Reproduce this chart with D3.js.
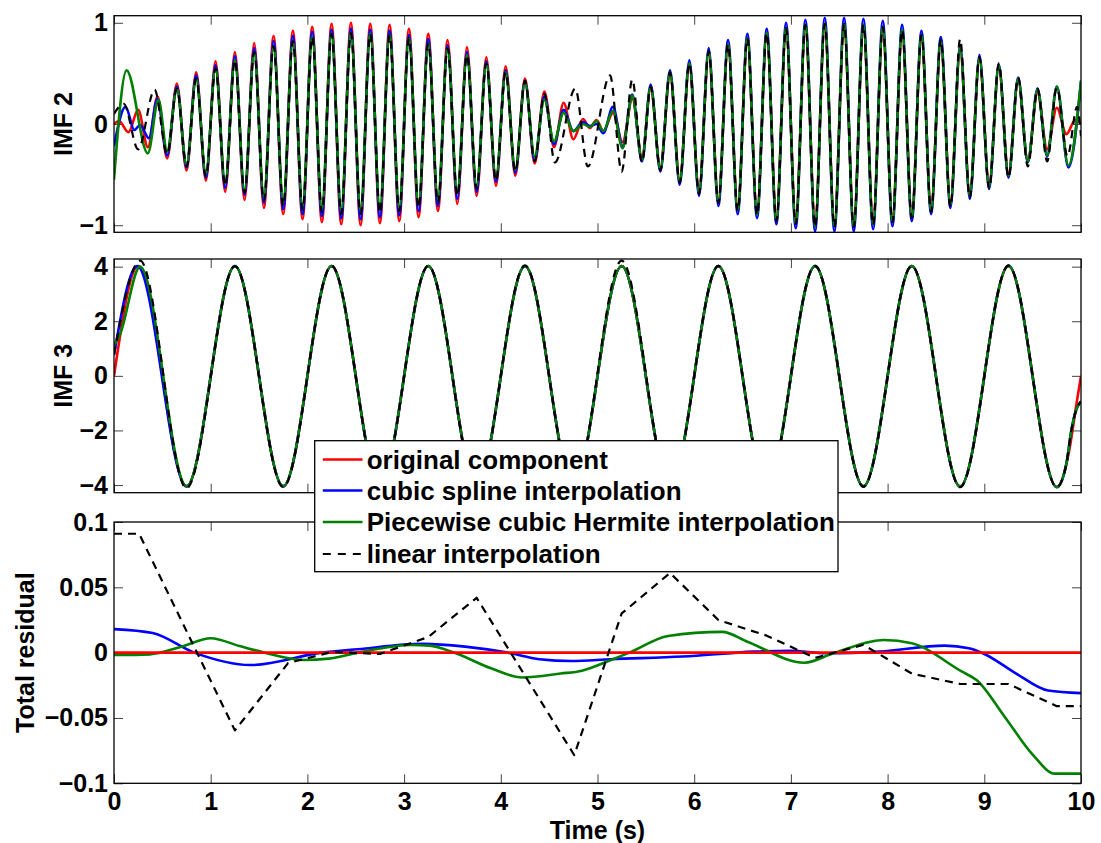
<!DOCTYPE html>
<html><head><meta charset="utf-8">
<script src="https://cdn.jsdelivr.net/npm/d3@7"></script>
<style>body{margin:0;background:#fff}svg{display:block}</style>
</head><body>
<svg id="c" width="1101" height="843"></svg>
<script>
// ---------------- DATA ----------------
const xTicks = [0,1,2,3,4,5,6,7,8,9,10];
const xTickLabels = ["0","1","2","3","4","5","6","7","8","9","10"];
const imf2Ticks = [-1,0,1];
const imf2TickLabels = ["\u22121","0","1"];
const imf3Ticks = [-4,-2,0,2,4];
const imf3TickLabels = ["\u22124","\u22122","0","2","4"];
const resTicks = [-0.1,-0.05,0,0.05,0.1];
const resTickLabels = ["\u22120.1","\u22120.05","0","0.05","0.1"];
const seriesNames = ["original component","cubic spline interpolation","Piecewise cubic Hermite interpolation","linear interpolation"];

// IMF 2 : [time, value] of the extrema of each curve
const imf2Original = [[0,0.0],[0.05,0.03],[0.15,-0.08],[0.25,0.14],[0.35,-0.23],[0.45,0.27],[0.55,-0.34],[0.65,0.40],[0.75,-0.46],[0.85,0.51],[0.95,-0.56],[1.05,0.62],[1.15,-0.67],[1.25,0.71],[1.35,-0.75],[1.45,0.80],[1.55,-0.83],[1.65,0.87],[1.75,-0.89],[1.85,0.92],[1.95,-0.94],[2.05,0.96],[2.15,-0.97],[2.25,0.99],[2.35,-0.99],[2.45,1.0],[2.55,-1.0],[2.65,0.99],[2.75,-0.98],[2.85,0.98],[2.95,-0.96],[3.05,0.94],[3.15,-0.92],[3.25,0.89],[3.35,-0.86],[3.45,0.83],[3.55,-0.79],[3.65,0.76],[3.75,-0.71],[3.85,0.66],[3.95,-0.61],[4.05,0.57],[4.15,-0.51],[4.25,0.45],[4.35,-0.39],[4.45,0.32],[4.55,-0.23],[4.65,0.21],[4.75,-0.15],[4.85,0.05],[4.92,-0.04],[4.99,0.04],[5.06,-0.07],[5.16,0.11],[5.26,-0.18],[5.36,0.25],[5.46,-0.33],[5.55,0.35],[5.65,-0.43],[5.75,0.49],[5.85,-0.55],[5.95,0.58],[6.05,-0.66],[6.15,0.70],[6.25,-0.75],[6.35,0.77],[6.45,-0.83],[6.55,0.83],[6.65,-0.87],[6.75,0.88],[6.85,-0.92],[6.95,0.93],[7.05,-0.95],[7.15,0.95],[7.25,-0.98],[7.35,0.96],[7.45,-0.98],[7.55,0.96],[7.65,-0.98],[7.75,0.95],[7.85,-0.96],[7.95,0.93],[8.05,-0.93],[8.15,0.90],[8.25,-0.89],[8.35,0.85],[8.45,-0.82],[8.55,0.79],[8.65,-0.77],[8.75,0.73],[8.85,-0.69],[8.95,0.64],[9.05,-0.60],[9.15,0.56],[9.25,-0.49],[9.35,0.43],[9.45,-0.36],[9.55,0.31],[9.65,-0.25],[9.75,0.16],[9.85,-0.10],[9.94,0.04],[10,0.0]];
const imf2Spline = [[0,-0.22],[0.12,0.17],[0.21,-0.06],[0.27,-0.01],[0.36,-0.14],[0.45,0.25],[0.55,-0.31],[0.65,0.37],[0.75,-0.43],[0.85,0.48],[0.95,-0.53],[1.05,0.58],[1.15,-0.63],[1.25,0.67],[1.35,-0.70],[1.45,0.75],[1.55,-0.78],[1.65,0.82],[1.75,-0.84],[1.85,0.87],[1.95,-0.89],[2.05,0.91],[2.15,-0.91],[2.25,0.93],[2.35,-0.93],[2.45,0.94],[2.55,-0.94],[2.65,0.93],[2.75,-0.92],[2.85,0.92],[2.95,-0.90],[3.05,0.88],[3.15,-0.86],[3.25,0.84],[3.35,-0.81],[3.45,0.78],[3.55,-0.74],[3.65,0.71],[3.75,-0.67],[3.85,0.62],[3.95,-0.57],[4.05,0.53],[4.15,-0.48],[4.25,0.42],[4.35,-0.36],[4.45,0.27],[4.55,-0.20],[4.65,0.14],[4.75,-0.07],[4.85,0.02],[4.92,-0.02],[4.99,0.0],[5.06,-0.09],[5.16,0.17],[5.26,-0.22],[5.36,0.29],[5.46,-0.37],[5.55,0.39],[5.65,-0.47],[5.75,0.53],[5.85,-0.60],[5.95,0.63],[6.05,-0.71],[6.15,0.75],[6.25,-0.81],[6.35,0.83],[6.45,-0.89],[6.55,0.89],[6.65,-0.93],[6.75,0.94],[6.85,-0.99],[6.95,1.00],[7.05,-1.03],[7.15,1.03],[7.25,-1.06],[7.35,1.05],[7.45,-1.06],[7.55,1.05],[7.65,-1.06],[7.75,1.04],[7.85,-1.04],[7.95,1.02],[8.05,-1.01],[8.15,0.98],[8.25,-0.96],[8.35,0.92],[8.45,-0.89],[8.55,0.86],[8.65,-0.83],[8.75,0.78],[8.85,-0.74],[8.95,0.68],[9.05,-0.64],[9.15,0.59],[9.25,-0.53],[9.35,0.46],[9.45,-0.38],[9.55,0.35],[9.65,-0.32],[9.75,0.37],[9.87,-0.43],[10,0.42]];
const imf2Hermite = [[0,-0.55],[0.13,0.53],[0.35,-0.29],[0.46,0.24],[0.55,-0.27],[0.65,0.35],[0.75,-0.40],[0.85,0.45],[0.95,-0.49],[1.05,0.55],[1.15,-0.58],[1.25,0.63],[1.35,-0.65],[1.45,0.71],[1.55,-0.72],[1.65,0.77],[1.75,-0.77],[1.85,0.82],[1.95,-0.81],[2.05,0.86],[2.15,-0.83],[2.25,0.89],[2.35,-0.85],[2.45,0.90],[2.55,-0.85],[2.65,0.89],[2.75,-0.84],[2.85,0.88],[2.95,-0.82],[3.05,0.85],[3.15,-0.79],[3.25,0.80],[3.35,-0.74],[3.45,0.75],[3.55,-0.68],[3.65,0.68],[3.75,-0.61],[3.85,0.60],[3.95,-0.53],[4.05,0.51],[4.15,-0.45],[4.25,0.41],[4.35,-0.32],[4.45,0.24],[4.55,-0.17],[4.65,0.11],[4.75,-0.07],[4.85,0.0],[4.92,-0.03],[4.99,0.03],[5.06,-0.07],[5.16,0.13],[5.26,-0.24],[5.36,0.28],[5.46,-0.35],[5.55,0.37],[5.65,-0.45],[5.75,0.51],[5.85,-0.57],[5.95,0.60],[6.05,-0.68],[6.15,0.72],[6.25,-0.77],[6.35,0.79],[6.45,-0.85],[6.55,0.85],[6.65,-0.89],[6.75,0.90],[6.85,-0.95],[6.95,0.95],[7.05,-0.98],[7.15,0.98],[7.25,-1.01],[7.35,0.99],[7.45,-1.01],[7.55,0.99],[7.65,-1.01],[7.75,0.98],[7.85,-0.99],[7.95,0.96],[8.05,-0.96],[8.15,0.93],[8.25,-0.92],[8.35,0.88],[8.45,-0.85],[8.55,0.82],[8.65,-0.80],[8.75,0.76],[8.85,-0.71],[8.95,0.66],[9.05,-0.62],[9.15,0.58],[9.25,-0.51],[9.35,0.45],[9.45,-0.37],[9.55,0.34],[9.65,-0.31],[9.75,0.37],[9.87,-0.41],[10,0.43]];
const imf2Linear = [[0,0.10],[0.1,0.20],[0.25,-0.25],[0.42,0.34],[0.55,-0.30],[0.65,0.35],[0.75,-0.42],[0.85,0.45],[0.95,-0.52],[1.05,0.55],[1.15,-0.61],[1.25,0.63],[1.35,-0.68],[1.45,0.71],[1.55,-0.76],[1.65,0.77],[1.75,-0.81],[1.85,0.82],[1.95,-0.85],[2.05,0.86],[2.15,-0.87],[2.25,0.89],[2.35,-0.89],[2.45,0.90],[2.55,-0.89],[2.65,0.89],[2.75,-0.88],[2.85,0.88],[2.95,-0.86],[3.05,0.85],[3.15,-0.83],[3.25,0.80],[3.35,-0.78],[3.45,0.75],[3.55,-0.71],[3.65,0.68],[3.75,-0.64],[3.85,0.60],[3.95,-0.56],[4.05,0.51],[4.15,-0.47],[4.25,0.43],[4.35,-0.37],[4.45,0.30],[4.56,-0.38],[4.77,0.35],[4.90,-0.42],[5.13,0.48],[5.25,-0.47],[5.36,0.44],[5.46,-0.38],[5.55,0.37],[5.65,-0.46],[5.75,0.51],[5.85,-0.58],[5.95,0.60],[6.05,-0.69],[6.15,0.72],[6.25,-0.78],[6.35,0.79],[6.45,-0.86],[6.55,0.85],[6.65,-0.90],[6.75,0.90],[6.85,-0.96],[6.95,0.95],[7.05,-0.99],[7.15,0.98],[7.25,-1.02],[7.35,0.99],[7.45,-1.02],[7.55,0.99],[7.65,-1.02],[7.75,0.98],[7.85,-1.0],[7.95,0.96],[8.05,-0.97],[8.15,0.93],[8.25,-0.93],[8.35,0.88],[8.45,-0.87],[8.55,0.84],[8.65,-0.82],[8.75,0.84],[8.85,-0.73],[8.95,0.66],[9.05,-0.64],[9.15,0.60],[9.25,-0.53],[9.35,0.46],[9.45,-0.42],[9.55,0.35],[9.65,-0.37],[9.75,0.36],[9.86,-0.32],[9.96,0.17],[10,-0.12]];

// IMF 3 : [time, value] of the extrema of each curve
const imf3Original = [[0,0],[0.25,4.02],[0.75,-4.05],[1.25,4.02],[1.75,-4.05],[2.25,4.02],[2.75,-4.05],[3.25,4.02],[3.75,-4.05],[4.25,4.02],[4.75,-4.05],[5.25,4.02],[5.75,-4.05],[6.25,4.02],[6.75,-4.05],[7.25,4.02],[7.75,-4.05],[8.25,4.02],[8.75,-4.05],[9.25,4.02],[9.75,-4.07],[9.88,-2.7],[9.95,-1.1],[10,0]];
const imf3Spline = [[0,0.77],[0.24,4.02],[0.75,-4.05],[1.25,4.02],[1.75,-4.05],[2.25,4.02],[2.75,-4.05],[3.25,4.02],[3.75,-4.05],[4.25,4.02],[4.75,-4.05],[5.25,4.02],[5.75,-4.05],[6.25,4.02],[6.75,-4.05],[7.25,4.02],[7.75,-4.05],[8.25,4.02],[8.75,-4.06],[9.25,4.04],[9.75,-4.08],[9.85,-3.2],[9.9,-2.0],[9.95,-1.25],[10,-0.94]];
const imf3Hermite = [[0,1.13],[0.06,1.5],[0.27,4.0],[0.75,-4.04],[1.25,4.02],[1.75,-4.04],[2.25,4.02],[2.75,-4.04],[3.25,4.02],[3.75,-4.04],[4.25,4.02],[4.75,-4.04],[5.25,4.02],[5.75,-4.04],[6.25,4.02],[6.75,-4.04],[7.25,4.02],[7.75,-4.04],[8.25,4.02],[8.75,-4.05],[9.25,4.03],[9.75,-4.07],[9.85,-3.2],[9.9,-2.0],[9.95,-1.25],[10,-0.94]];
const imf3Linear = [[0,0.77],[0.27,4.22],[0.75,-4.12],[1.25,4.02],[1.75,-4.07],[2.25,4.03],[2.75,-4.06],[3.25,4.03],[3.75,-4.06],[4.25,4.05],[4.75,-4.06],[5.25,4.22],[5.75,-4.06],[6.25,4.03],[6.75,-4.06],[7.25,4.03],[7.75,-4.06],[8.25,4.03],[8.75,-4.08],[9.25,4.04],[9.75,-4.08],[9.85,-3.2],[9.9,-2.0],[9.95,-1.25],[10,-0.94]];

// Total residual : [time, value]
const resOriginal = [[0,0],[10,0]];
const resSpline = [[0,0.018],[0.4,0.015],[0.83,0.0],[1.41,-0.0095],[2.15,0.0],[2.52,0.0026],[3.19,0.0067],[3.63,0.0046],[4.07,0.0],[4.4,-0.005],[4.73,-0.0064],[5.14,-0.005],[5.88,-0.003],[6.62,0.0008],[7.0,0.0015],[7.36,-0.0005],[7.92,0.0008],[8.59,0.0054],[8.84,0.0033],[9.0,-0.001],[9.33,-0.016],[9.66,-0.029],[10,-0.031]];
const resHermite = [[0,-0.0018],[0.37,-0.0013],[0.7,0.0046],[1.0,0.011],[1.3,0.005],[1.56,0.0],[1.96,-0.0056],[2.22,-0.0046],[2.52,0.0],[3.07,0.0059],[3.26,0.0054],[3.52,0.0],[3.9,-0.012],[4.22,-0.019],[4.62,-0.016],[4.84,-0.0138],[5.14,-0.0056],[5.33,0.0],[5.73,0.0128],[6.29,0.0159],[6.55,0.0084],[7.14,-0.0077],[7.44,-0.0005],[7.96,0.0097],[8.25,0.0072],[8.77,-0.0146],[8.92,-0.021],[9.21,-0.049],[9.5,-0.078],[9.73,-0.0926],[10,-0.0926]];
const resLinear = [[0,0.091],[0.26,0.091],[1.25,-0.0595],[1.8,-0.008],[2.25,0.0005],[2.75,-0.001],[3.25,0.012],[3.75,0.042],[4.76,-0.0785],[5.25,0.030],[5.75,0.061],[6.25,0.025],[6.75,0.013],[7.25,-0.004],[7.75,0.006],[8.25,-0.016],[8.75,-0.024],[9.25,-0.024],[9.75,-0.041],[10,-0.041]];

// ---------------- DRAWING ----------------
const FONT = '"Liberation Sans", Arial, Helvetica, sans-serif';
const COLORS = {orig:"#ff0000", spline:"#0000ff", herm:"#008000", lin:"#000000"};
const svg = d3.select("#c");
const x = d3.scaleLinear().domain([0,10]).range([114,1081]);

const panels = [
  {top:15.7, bottom:232.3, domain:[-1.07,1.07], ticks:imf2Ticks, labels:imf2TickLabels, ylabel:"IMF 2", ylx:71.5,
   curve:d3.curveMonotoneX,
   order:[[imf2Original,"orig"],[imf2Spline,"spline"],[imf2Hermite,"herm"],[imf2Linear,"lin"]], xlabels:false},
  {top:259, bottom:492.7, domain:[-4.28,4.28], ticks:imf3Ticks, labels:imf3TickLabels, ylabel:"IMF 3", ylx:71.5,
   curve:d3.curveMonotoneX,
   order:[[imf3Original,"orig"],[imf3Spline,"spline"],[imf3Hermite,"herm"],[imf3Linear,"lin"]], xlabels:false},
  {top:522, bottom:783.3, domain:[-0.1,0.1], ticks:resTicks, labels:resTickLabels, ylabel:"Total residual", ylx:34,
   curve:d3.curveMonotoneX,
   order:[[resSpline,"spline"],[resHermite,"herm"],[resOriginal,"orig"],[resLinear,"lin"]], xlabels:true}
];

panels.forEach((p,i)=>{
  const y = d3.scaleLinear().domain(p.domain).range([p.bottom,p.top]);
  const g = svg.append("g");
  const clipId = "clip"+i;
  svg.append("clipPath").attr("id",clipId).append("rect")
     .attr("x",x.range()[0]).attr("y",p.top).attr("width",x.range()[1]-x.range()[0]).attr("height",p.bottom-p.top);

  const styleAxis = sel => {
    sel.select(".domain").remove();
    sel.selectAll(".tick line").attr("stroke","#444").attr("stroke-width",1);
    sel.selectAll("text").attr("font-family",FONT).attr("font-size",25).attr("font-weight","bold").attr("fill","#000");
  };
  g.append("g").attr("transform",`translate(${x.range()[0]},0)`)
   .call(d3.axisLeft(y).tickValues(p.ticks).tickFormat((d,k)=>p.labels[k]).tickSize(-9).tickPadding(6)).call(styleAxis);
  g.append("g").attr("transform",`translate(${x.range()[1]},0)`)
   .call(d3.axisRight(y).tickValues(p.ticks).tickFormat("").tickSize(-9)).call(styleAxis);
  g.append("g").attr("transform",`translate(0,${p.top})`)
   .call(d3.axisTop(x).tickValues(xTicks).tickFormat("").tickSize(-9)).call(styleAxis);
  g.append("g").attr("transform",`translate(0,${p.bottom})`)
   .call(d3.axisBottom(x).tickValues(xTicks).tickFormat(p.xlabels ? ((d,k)=>xTickLabels[k]) : "").tickSize(-9).tickPadding(9)).call(styleAxis);

  const lines = g.append("g").attr("clip-path",`url(#${clipId})`);
  const line = d3.line().x(d=>x(d[0])).y(d=>y(d[1])).curve(p.curve);
  const straight = d3.line().x(d=>x(d[0])).y(d=>y(d[1]));
  p.order.forEach(([data,key])=>{
    const lin = key==="lin";
    lines.append("path").attr("d", (lin && i===2) ? straight(data) : line(data))
      .attr("fill","none").attr("stroke",COLORS[key])
      .attr("stroke-width", lin?2.2:2.6)
      .attr("stroke-dasharray", lin?"8,6":null)
      .attr("stroke-linejoin","round");
  });

  g.append("rect").attr("x",x.range()[0]).attr("y",p.top)
   .attr("width",x.range()[1]-x.range()[0]).attr("height",p.bottom-p.top)
   .attr("fill","none").attr("stroke","#000").attr("stroke-width",1.3);

  svg.append("text").attr("transform",`translate(${p.ylx},${(p.top+p.bottom)/2}) rotate(-90)`)
    .attr("text-anchor","middle").attr("font-family",FONT).attr("font-size",25).attr("font-weight","bold")
    .text(p.ylabel);
});

svg.append("text").attr("x",(x.range()[0]+x.range()[1])/2).attr("y",838.5)
  .attr("text-anchor","middle").attr("font-family",FONT).attr("font-size",25).attr("font-weight","bold")
  .text("Time (s)");

// legend
const lg = svg.append("g");
lg.append("rect").attr("x",314.7).attr("y",440.7).attr("width",523.3).attr("height",131)
  .attr("fill","#fff").attr("stroke","#000").attr("stroke-width",1.3);
const keys = ["orig","spline","herm","lin"];
const rowY = [459.5,490.5,522,554];
keys.forEach((k,i)=>{
  lg.append("line").attr("x1",322.8).attr("x2",362.5).attr("y1",rowY[i]).attr("y2",rowY[i])
    .attr("stroke",COLORS[k]).attr("stroke-width",k==="lin"?2.2:2.6).attr("stroke-dasharray",k==="lin"?"8,7":null);
  lg.append("text").attr("x",366.7).attr("y",rowY[i]).attr("dy","0.35em")
    .attr("font-family",FONT).attr("font-size",26).attr("font-weight","bold").text(seriesNames[i]);
});
</script>
</body></html>
